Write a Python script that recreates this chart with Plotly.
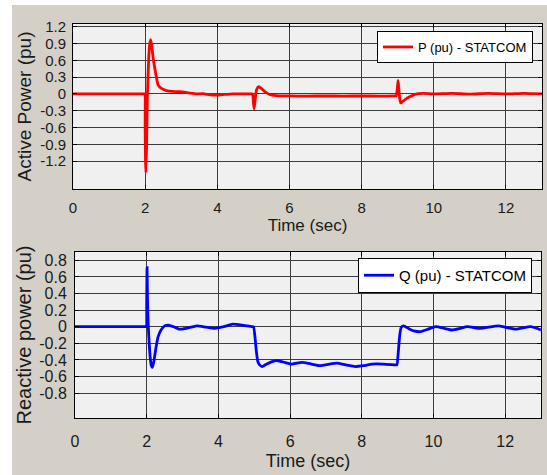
import plotly.graph_objects as go

# ---- Data ----
t_p = [0, 1.0, 1.97, 1.99, 2.0, 2.01, 2.02, 2.04, 2.06, 2.09, 2.12, 2.15, 2.18, 2.22, 2.27, 2.32, 2.36,
       2.45, 2.59, 2.75, 2.96, 3.23, 3.42, 3.6, 3.8, 4.0, 4.2, 4.42, 4.7, 4.95, 4.98, 5.0, 5.02, 5.05,
       5.09, 5.15, 5.22, 5.32, 5.45, 5.63, 6.0, 6.5, 7.0, 7.5, 8.0, 8.5, 8.93, 8.96, 8.99, 9.01, 9.04,
       9.08, 9.15, 9.25, 9.4, 9.53, 9.7, 10.0, 10.5, 11.0, 11.5, 12.0, 12.5, 13.0]
p_vals = [0, 0, 0, 0, -0.6, -1.2, -1.41, -0.9, -0.1, 0.5, 0.85, 0.97, 0.88, 0.65, 0.45, 0.27, 0.16,
          0.1, 0.06, 0.045, 0.04, 0.015, 0.0, 0.005, -0.015, -0.02, -0.01, 0.0, 0.0, 0.0, 0.0, -0.15, -0.27, -0.1,
          0.08, 0.13, 0.1, 0.04, -0.01, -0.03, -0.035, -0.04, -0.035, -0.04, -0.035, -0.04, -0.035, -0.035, 0.1, 0.24, 0.02,
          -0.16, -0.13, -0.08, -0.03, 0.0, 0.01, 0.0, 0.01, -0.005, 0.01, 0.0, 0.01, 0.0]

t_q = [0, 1.0, 1.97, 1.99, 2.0, 2.01, 2.02, 2.04, 2.07, 2.1, 2.13, 2.16, 2.2, 2.26, 2.32, 2.4, 2.5, 2.6,
       2.75, 2.9, 3.1, 3.4, 3.65, 3.9, 4.15, 4.4, 4.7, 4.94, 4.98, 5.02, 5.06, 5.1, 5.15, 5.22, 5.35, 5.5,
       5.65, 5.85, 6.05, 6.33, 6.6, 6.84, 7.1, 7.31, 7.55, 7.82, 8.05, 8.29, 8.6, 8.94, 8.98, 9.02, 9.06,
       9.1, 9.17, 9.3, 9.45, 9.64, 9.85, 10.06, 10.3, 10.52, 10.75, 10.94, 11.31, 11.82, 12.29,
       12.71, 13.0]
q_vals = [0, 0, 0, 0, 0.3, 0.71, 0.4, 0.05, -0.2, -0.38, -0.47, -0.49, -0.42, -0.25, -0.12, -0.04, 0.01, 0.02,
          0.0, -0.03, -0.02, 0.01, -0.005, -0.02, 0.0, 0.03, 0.015, 0.0, 0.0, -0.12, -0.3, -0.42, -0.46, -0.48, -0.45, -0.42,
          -0.41, -0.43, -0.45, -0.43, -0.45, -0.47, -0.45, -0.44, -0.46, -0.48, -0.47, -0.45, -0.45, -0.46, -0.46, -0.3, -0.1,
          -0.01, 0.01, -0.02, -0.05, -0.06, -0.03, 0.0, -0.02, -0.04, -0.02, 0.0, -0.02, 0.01, -0.03,
          0.0, -0.04]

x_ticks = [0, 2, 4, 6, 8, 10, 12]
p_ticks = [-1.2, -0.9, -0.6, -0.3, 0, 0.3, 0.6, 0.9, 1.2]
p_tick_text = ["-1.2", "-0.9", "-0.6", "-0.3", "0", "0.3", "0.6", "0.9", "1.2"]
q_ticks = [-0.8, -0.6, -0.4, -0.2, 0, 0.2, 0.4, 0.6, 0.8]
q_tick_text = ["-0.8", "-0.6", "-0.4", "-0.2", "0", "0.2", "0.4", "0.6", "0.8"]

FONT = "Liberation Sans, Arial, sans-serif"
GRAY = "#d4d0c8"
GRID = "#3c3c3c"

fig = go.Figure()
fig.add_trace(go.Scatter(x=t_p, y=p_vals, mode="lines", name="P (pu) - STATCOM",
                         line=dict(color="#ff0000", width=2.8, shape="spline", smoothing=0.5),
                         xaxis="x", yaxis="y", legend="legend"))
fig.add_trace(go.Scatter(x=t_q, y=q_vals, mode="lines", name="Q (pu) - STATCOM",
                         line=dict(color="#0000ff", width=2.8, shape="spline", smoothing=0.5),
                         xaxis="x2", yaxis="y2", legend="legend2"))

W, H = 547, 475
L, R, T, B = 73, 5, 24, 57
pw, ph = W - L - R, H - T - B

def px(x):
    return (x - L) / pw

def py(y):
    return (H - B - y) / ph

axis_common = dict(showline=True, linecolor="black", linewidth=1, mirror="ticks",
                   ticks="inside", ticklen=4, tickcolor="black",
                   showgrid=True, gridcolor=GRID, gridwidth=1, zeroline=False)

fig.update_layout(
    width=W, height=H,
    margin=dict(l=L, r=R, t=T, b=B),
    paper_bgcolor=GRAY, plot_bgcolor="#f0f0f0",
    font=dict(family=FONT, color="#1a1a1a"),
    xaxis=dict(domain=[0, 1], anchor="y", range=[0, 13], tickvals=x_ticks,
               tickfont=dict(size=15), ticklabelstandoff=5,
               title=dict(text="Time (sec)", font=dict(size=17), standoff=4), **axis_common),
    yaxis=dict(domain=[py(189), 1], anchor="x", range=[-1.7, 1.25], tickvals=p_ticks,
               ticktext=p_tick_text, tickfont=dict(size=15), ticklabelstandoff=3,
               title=dict(text="Active Power (pu)", font=dict(size=19), standoff=3), **axis_common),
    xaxis2=dict(domain=[px(75), px(541)], anchor="y2", range=[0, 13], tickvals=x_ticks,
                tickfont=dict(size=16), ticklabelstandoff=9,
                title=dict(text="Time (sec)", font=dict(size=18), standoff=5), **axis_common),
    yaxis2=dict(domain=[0, py(252)], anchor="x2", range=[-1.1, 0.9], tickvals=q_ticks,
                ticktext=q_tick_text, tickfont=dict(size=16), ticklabelstandoff=4,
                title=dict(text="Reactive power (pu)", font=dict(size=20), standoff=2), **axis_common),
    legend=dict(x=px(533), y=py(31), xanchor="right", yanchor="top",
                bgcolor="white", bordercolor="black", borderwidth=1,
                font=dict(size=13, color="black"), tracegroupgap=0, itemwidth=30),
    legend2=dict(x=px(532), y=py(258), xanchor="right", yanchor="top",
                 bgcolor="white", bordercolor="black", borderwidth=1,
                 font=dict(size=15, color="black"), tracegroupgap=0, itemwidth=30),
    showlegend=True,
    shapes=[
        dict(type="rect", xref="paper", yref="paper", x0=px(0), x1=px(12), y0=py(H), y1=py(0),
             fillcolor="white", line=dict(width=0), layer="below"),
        dict(type="rect", xref="paper", yref="paper", x0=px(0), x1=px(W), y0=py(5), y1=py(0),
             fillcolor="white", line=dict(width=0), layer="below"),
    ],
)

fig.write_html("out.html", config={"displayModeBar": False},
               post_script="document.body.style.margin='0';document.body.style.overflow='hidden';")
